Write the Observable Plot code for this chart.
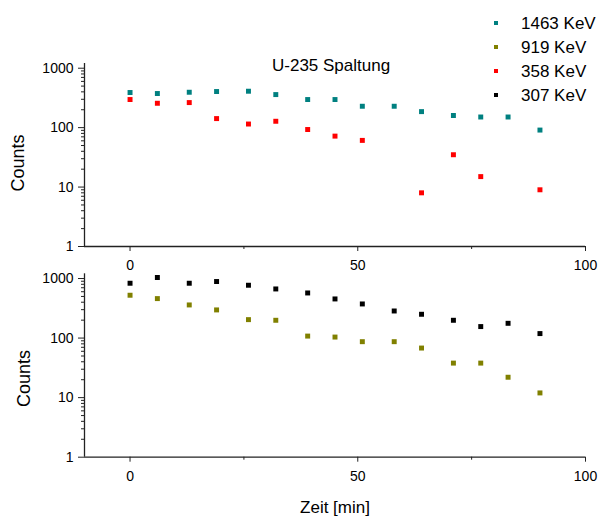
<!DOCTYPE html>
<html>
<head>
<meta charset="utf-8">
<script src="https://cdn.jsdelivr.net/npm/d3@7"></script>
<script src="https://cdn.jsdelivr.net/npm/@observablehq/plot@0.6"></script>
<style>
  html, body { margin: 0; padding: 0; background: #fff; }
  #wrap { position: relative; width: 598px; height: 516px; background: #fff; font-family: "Liberation Sans", Arial, sans-serif; color: #000; overflow: hidden; }
  #top, #bot { position: absolute; left: 0; }
  #top { top: 0; }
  #bot { top: 262px; }
  .title { position: absolute; left: 272px; top: 57px; font-size: 17px; line-height: 17px; white-space: nowrap; }
  .leg { position: absolute; left: 494px; font-size: 17px; line-height: 17px; white-space: nowrap; }
  .leg span.sw { position: absolute; left: 0; top: 6px; width: 4px; height: 4px; }
  .leg span.tx { position: absolute; left: 27px; top: 0; }
</style>
</head>
<body>
<div id="wrap">
  <div id="top"></div>
  <div id="bot"></div>
  <div class="title" id="title"></div>
  <div id="legend"></div>
</div>
<script>
// ---- data ----
const times      = [0, 6, 13, 19, 26, 32, 39, 45, 51, 58, 64, 71, 77, 83, 90];
const counts1463 = [390, 375, 394, 405, 410, 360, 297, 297, 229, 229, 186, 160, 151, 151, 91];
const counts358  = [297, 257, 264, 142, 115, 128, 93, 72, 61, null, 8, 35, 15, null, 9];
const counts919  = [524, 460, 360, 297, 204, 199, 108, 104, 87, 87, 68, 38, 38, 22, 12];
const counts307  = [833, 1040, 833, 890, 771, 668, 572, 454, 374, 285, 251, 199, 156, 177, 119];

const seriesNames  = ["1463 KeV", "919 KeV", "358 KeV", "307 KeV"];
const seriesColors = ["#008080", "#808000", "#ff0000", "#000000"];

const xTicks      = [0, 50, 100];
const xMinorTicks = [25, 75];
const yTicks      = [1, 10, 100, 1000];
const titleText   = "U-235 Spaltung";
const yLabel      = "Counts";
const xLabel      = "Zeit [min]";

// ---- helpers ----
const rows = (vals) => times.map((t, i) => ({t, v: vals[i]})).filter(d => d.v != null);
const yMinorTicks = [1, 10, 100].flatMap(d => [2,3,4,5,6,7,8,9].map(m => m * d));

const FONT = '"Liberation Sans", Arial, sans-serif';
const AXIS = "#222";

function panel(seriesList, opts) {
  const marks = [
    Plot.ruleX([-10], {stroke: AXIS, strokeWidth: 1.3}),
    Plot.ruleY([1], {stroke: AXIS, strokeWidth: 1.3}),
    Plot.axisY({ticks: yTicks, tickFormat: d => String(d), tickSize: 6, tickPadding: 5, stroke: AXIS, label: null}),
    Plot.axisY(yMinorTicks, {tickSize: 3, tickFormat: () => "", label: null, stroke: AXIS}),
    Plot.axisX({ticks: xTicks, tickFormat: d => String(d), tickSize: 5, tickPadding: 9, stroke: AXIS, label: null}),
    Plot.axisX(xMinorTicks, {tickSize: 3, tickFormat: () => "", label: null, stroke: AXIS}),
    Plot.text([yLabel], {text: d => d, frameAnchor: "left", rotate: -90, textAnchor: "middle",
      dx: opts.yLabelDx, dy: opts.yLabelDy, fontSize: 18, fill: "#000"})
  ];
  if (opts.xLabel) {
    marks.push(Plot.axisX({ticks: [], label: opts.xLabel, labelAnchor: "center", labelArrow: "none", labelOffset: opts.xLabelOffset, fontSize: 17}));
  }
  seriesList.forEach(s => marks.push(
    Plot.dot(rows(s.values), {x: "t", y: "v", symbol: "square", r: 2.8, fill: s.color, stroke: "none"})
  ));
  return Plot.plot({
    width: 598,
    height: opts.height,
    marginLeft: 84,
    marginRight: 13,
    marginTop: opts.marginTop,
    marginBottom: opts.marginBottom,
    style: {background: "transparent", fontFamily: FONT, fontSize: "14px", color: "#000", overflow: "visible"},
    x: {domain: [-10, 100], axis: null},
    y: {type: "log", domain: [1, 1200], axis: null},
    marks
  });
}

const topPlot = panel([
  {values: counts1463, color: seriesColors[0]},
  {values: counts358,  color: seriesColors[2]}
], {height: 275, marginTop: 63, marginBottom: 29, yLabelDx: -66.5, yLabelDy: 8});

const botPlot = panel([
  {values: counts307, color: seriesColors[3]},
  {values: counts919, color: seriesColors[1]}
], {height: 254, marginTop: 11.3, marginBottom: 59.3, yLabelDx: -60.5, yLabelDy: 13, xLabel: xLabel, xLabelOffset: 56});

document.getElementById("top").appendChild(topPlot);
document.getElementById("bot").appendChild(botPlot);
document.getElementById("title").textContent = titleText;

// legend
const legend = document.getElementById("legend");
seriesNames.forEach((name, i) => {
  const row = document.createElement("div");
  row.className = "leg";
  row.style.top = (15 + i * 24) + "px";
  const sw = document.createElement("span");
  sw.className = "sw";
  sw.style.background = seriesColors[i];
  const tx = document.createElement("span");
  tx.className = "tx";
  tx.textContent = name;
  row.appendChild(sw);
  row.appendChild(tx);
  legend.appendChild(row);
});
</script>
</body>
</html>
